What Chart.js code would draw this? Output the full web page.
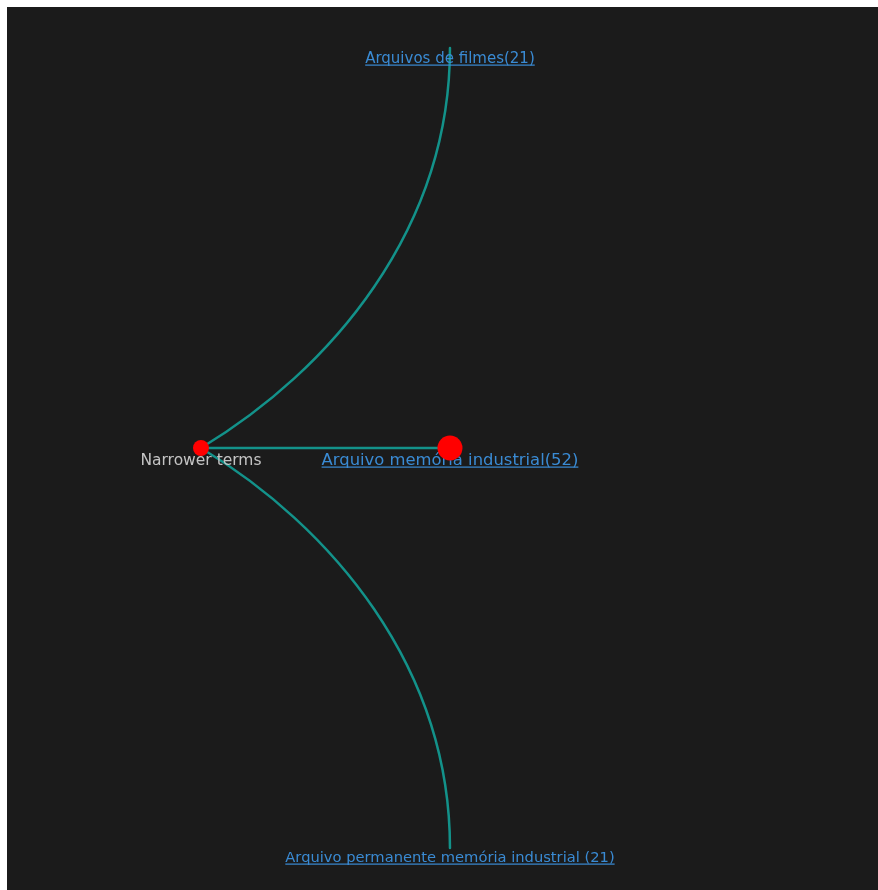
<!DOCTYPE html>
<html lang="pt">
<head>
    <meta charset="UTF-8">
    <title>Narrower terms</title>
    <script src="https://cdn.jsdelivr.net/npm/chart.js"></script>
    <style>
        html, body {
            margin: 0;
            padding: 0;
            background: #ffffff;
        }
        .panel {
            position: absolute;
            left: 7px;
            top: 7px;
            width: 871px;
            height: 883px;
            background: #1b1b1b;
        }
    </style>
</head>
<body>
    <div class="panel">
        <canvas id="treeChart" width="871" height="883"></canvas>
    </div>

    <script>
        // tree nodes: depth along x, slot along y
        const nodeLabels = [
            'Narrower terms',
            'Arquivos de filmes(21)',
            'Arquivo memória industrial(52)',
            'Arquivo permanente memória industrial (21)'
        ];
        const nodeDepth = [0, 1, 1, 1];
        const nodeSlot = [0, 1, 0, -1];
        const nodeCount = [null, 21, 52, 21];
        // parent -> child
        const linkFrom = [0, 0, 0];
        const linkTo = [1, 2, 3];

        // styling per node (not data)
        const pointSizes = [8, 0, 12.5, 0];
        const labelStyle = [
            { color: '#c4c4c4', size: 15.5, dy: 17, underline: false },
            { color: '#3a8bd4', size: 15, dy: 15, underline: true },
            { color: '#3a8bd4', size: 16.4, dy: 17, underline: true },
            { color: '#3a8bd4', size: 14.7, dy: 14, underline: true }
        ];

        const treePlugin = {
            id: 'treeLinks',
            beforeDatasetsDraw(chart) {
                const ctx = chart.ctx;
                const xs = chart.scales.x, ys = chart.scales.y;
                const px = i => xs.getPixelForValue(nodeDepth[i]);
                const py = i => ys.getPixelForValue(nodeSlot[i]);

                ctx.save();
                ctx.strokeStyle = '#13928a';
                ctx.lineWidth = 2.5;
                ctx.lineCap = 'round';
                linkFrom.forEach((from, k) => {
                    const to = linkTo[k];
                    const x0 = px(from), y0 = py(from);
                    const x1 = px(to), y1 = py(to);
                    const dx = x1 - x0, dy = y1 - y0;
                    ctx.beginPath();
                    ctx.moveTo(x0, y0);
                    ctx.bezierCurveTo(
                        x0 + 0.52 * dx, y0 + 0.195 * dy,
                        x1, y1 - 0.455 * dy,
                        x1, y1
                    );
                    ctx.stroke();
                });

                ctx.textAlign = 'center';
                ctx.textBaseline = 'alphabetic';
                nodeLabels.forEach((label, i) => {
                    const st = labelStyle[i];
                    const x = px(i), y = py(i) + st.dy;
                    ctx.font = st.size + 'px "DejaVu Sans", sans-serif';
                    ctx.fillStyle = st.color;
                    ctx.fillText(label, x, y);
                    if (st.underline) {
                        const w = ctx.measureText(label).width;
                        ctx.fillRect(x - w / 2, y + 1.5, w, 1.2);
                    }
                });
                ctx.restore();
            }
        };

        new Chart(document.getElementById('treeChart'), {
            type: 'scatter',
            data: {
                datasets: [{
                    data: nodeDepth.map((d, i) => ({ x: d, y: nodeSlot[i], count: nodeCount[i] })),
                    pointRadius: pointSizes,
                    pointHoverRadius: pointSizes,
                    pointBackgroundColor: '#ff0000',
                    pointBorderWidth: 0,
                    showLine: false
                }]
            },
            options: {
                responsive: false,
                animation: false,
                layout: { padding: 0, autoPadding: false },
                scales: {
                    x: { type: 'linear', display: false, min: -0.779, max: 2.719 },
                    y: { type: 'linear', display: false, min: -1.105, max: 1.1025 }
                },
                plugins: {
                    legend: { display: false },
                    tooltip: { enabled: false }
                }
            },
            plugins: [treePlugin]
        });
    </script>
</body>
</html>
